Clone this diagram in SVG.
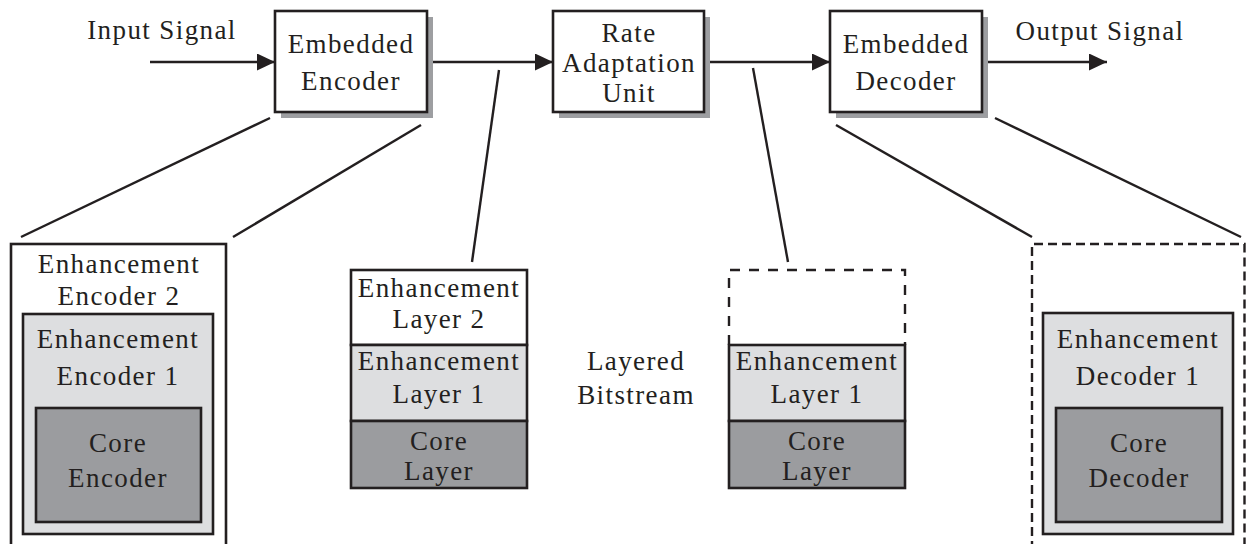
<svg xmlns="http://www.w3.org/2000/svg" width="1246" height="544" viewBox="0 0 1246 544">
  <style>
    .t { font-family: "Liberation Serif", "Times New Roman", serif; font-size: 27px; letter-spacing: 1.4px; fill: #231f20; text-anchor: middle; }
    .box { fill: #ffffff; stroke: #231f20; stroke-width: 2.6; }
    .shadow { fill: #9d9ea1; stroke: none; }
    .light { fill: #dddee0; stroke: #231f20; stroke-width: 2.6; }
    .dark { fill: #9b9c9f; stroke: #231f20; stroke-width: 2.6; }
    .dash { fill: none; stroke: #231f20; stroke-width: 2.4; }
    .wire { fill: none; stroke: #231f20; stroke-width: 2.4; }
  </style>
  <defs>
    <marker id="arrow" markerUnits="userSpaceOnUse" markerWidth="18" markerHeight="17" refX="18" refY="8.5" orient="auto">
      <path d="M0,0 L18,8.5 L0,17 z" fill="#231f20"/>
    </marker>
  </defs>
  <rect width="1246" height="544" fill="#ffffff"/>

  <!-- connectors -->
  <g id="connectors">
    <line class="wire" x1="150" y1="62" x2="275" y2="62" marker-end="url(#arrow)"/>
    <line class="wire" x1="427" y1="62" x2="553" y2="62" marker-end="url(#arrow)"/>
    <line class="wire" x1="704" y1="62" x2="830" y2="62" marker-end="url(#arrow)"/>
    <line class="wire" x1="982" y1="62" x2="1107" y2="62" marker-end="url(#arrow)"/>
    <!-- zoom-out leader lines -->
    <line class="wire" x1="270" y1="118" x2="21" y2="237"/>
    <line class="wire" x1="421" y1="125" x2="233" y2="237"/>
    <line class="wire" x1="499" y1="70" x2="472" y2="262"/>
    <line class="wire" x1="753" y1="68" x2="788" y2="262"/>
    <line class="wire" x1="836" y1="125" x2="1032" y2="237"/>
    <line class="wire" x1="995" y1="118" x2="1241" y2="237"/>
  </g>

  <!-- signal labels -->
  <g id="input-label"><text class="t" x="162" y="39">Input Signal</text></g>
  <g id="output-label"><text class="t" x="1100" y="40">Output Signal</text></g>

  <!-- top row blocks -->
  <g id="embedded-encoder">
    <rect class="shadow" x="281" y="17" width="152" height="101"/>
    <rect class="box" x="275" y="11" width="152" height="101"/>
    <text class="t" x="351" y="53">Embedded</text>
    <text class="t" x="351" y="90">Encoder</text>
  </g>
  <g id="rate-adaptation-unit">
    <rect class="shadow" x="559" y="17" width="151" height="101"/>
    <rect class="box" x="553" y="11" width="151" height="101"/>
    <text class="t" x="629" y="42">Rate</text>
    <text class="t" x="629" y="72">Adaptation</text>
    <text class="t" x="629" y="102">Unit</text>
  </g>
  <g id="embedded-decoder">
    <rect class="shadow" x="836" y="17" width="152" height="101"/>
    <rect class="box" x="830" y="11" width="152" height="101"/>
    <text class="t" x="906" y="53">Embedded</text>
    <text class="t" x="906" y="90">Decoder</text>
  </g>

  <!-- encoder detail -->
  <g id="enhancement-encoder-2">
    <rect class="box" x="11" y="244" width="215" height="320"/>
    <text class="t" x="119" y="273">Enhancement</text>
    <text class="t" x="119" y="305">Encoder 2</text>
  </g>
  <g id="enhancement-encoder-1">
    <rect class="light" x="23" y="314" width="190" height="220"/>
    <text class="t" x="118" y="348">Enhancement</text>
    <text class="t" x="118" y="385">Encoder 1</text>
  </g>
  <g id="core-encoder">
    <rect class="dark" x="36" y="408" width="165" height="114"/>
    <text class="t" x="118" y="452">Core</text>
    <text class="t" x="118" y="487">Encoder</text>
  </g>

  <!-- full layered bitstream -->
  <g id="bitstream-full">
    <rect class="box" x="351" y="270" width="176" height="75"/>
    <rect class="light" x="351" y="345" width="176" height="76"/>
    <rect class="dark" x="351" y="421" width="176" height="67"/>
    <text class="t" x="439" y="297">Enhancement</text>
    <text class="t" x="439" y="328">Layer 2</text>
    <text class="t" x="439" y="370">Enhancement</text>
    <text class="t" x="439" y="403">Layer 1</text>
    <text class="t" x="439" y="450">Core</text>
    <text class="t" x="439" y="480">Layer</text>
  </g>

  <g id="bitstream-label">
    <text class="t" x="636" y="370">Layered</text>
    <text class="t" x="636" y="404">Bitstream</text>
  </g>

  <!-- truncated layered bitstream -->
  <g id="bitstream-truncated">
    <path class="dash" d="M729,345 V270 H905 V345" stroke-dasharray="10 9"/>
    <rect class="light" x="729" y="345" width="176" height="76"/>
    <rect class="dark" x="729" y="421" width="176" height="67"/>
    <text class="t" x="817" y="370">Enhancement</text>
    <text class="t" x="817" y="403">Layer 1</text>
    <text class="t" x="817" y="450">Core</text>
    <text class="t" x="817" y="480">Layer</text>
  </g>

  <!-- decoder detail -->
  <g id="decoder-outline">
    <path class="dash" d="M1032,550 V244 H1244.5 V550" stroke-dasharray="9 5"/>
  </g>
  <g id="enhancement-decoder-1">
    <rect class="light" x="1043" y="313" width="190" height="221"/>
    <text class="t" x="1138" y="348">Enhancement</text>
    <text class="t" x="1138" y="385">Decoder 1</text>
  </g>
  <g id="core-decoder">
    <rect class="dark" x="1056" y="408" width="166" height="114"/>
    <text class="t" x="1139" y="452">Core</text>
    <text class="t" x="1139" y="487">Decoder</text>
  </g>
</svg>
